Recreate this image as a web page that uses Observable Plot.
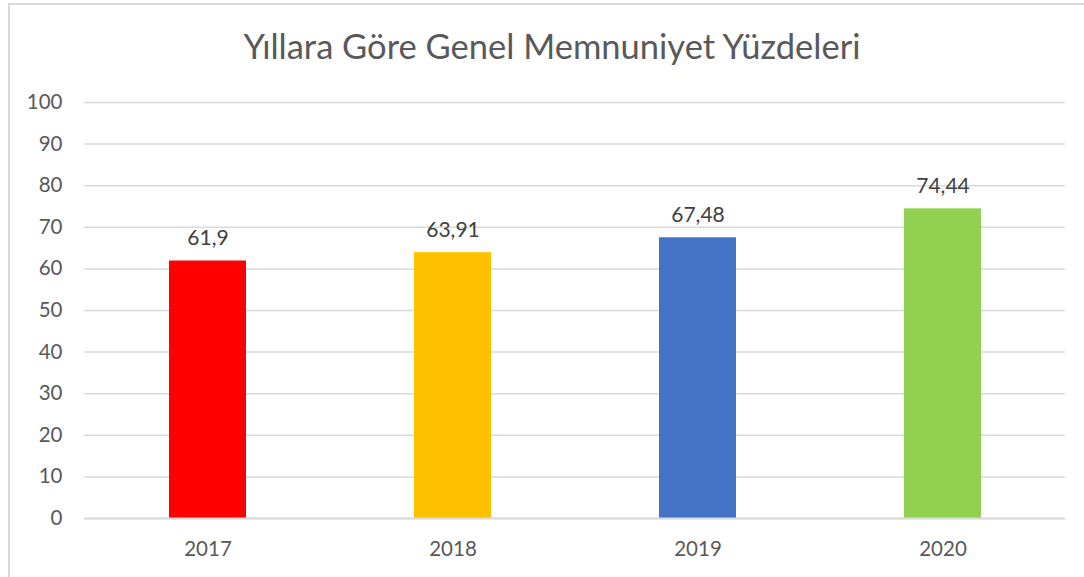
<!DOCTYPE html>
<html>
<head>
<meta charset="utf-8">
<script src="https://cdn.jsdelivr.net/npm/d3@7"></script>
<script src="https://cdn.jsdelivr.net/npm/@observablehq/plot@0.6"></script>
<style>
  html, body { margin: 0; padding: 0; background: #fff; }
  #wrap { position: relative; width: 1084px; height: 577px; overflow: hidden; }
  #border { position: absolute; left: 8px; top: 3px; width: 1100px; height: 600px;
            border-top: 2px solid #d9d9d9; border-left: 2px solid #d9d9d9; box-sizing: border-box; }
  #chart { position: absolute; left: 0; top: 0; }
</style>
</head>
<body>
<div id="wrap"><div id="border"></div><div id="chart"></div></div>
<script>
const title = "Yıllara Göre Genel Memnuniyet Yüzdeleri";
const years = ["2017", "2018", "2019", "2020"];
const values = [61.9, 63.91, 67.48, 74.44];
const colors = ["#FF0000", "#FFC000", "#4472C4", "#92D050"];
const yTicks = [0, 10, 20, 30, 40, 50, 60, 70, 80, 90, 100];

const data = years.map((y, i) => ({year: y, value: values[i], color: colors[i]}));
const fmt = v => String(v).replace(".", ",");
const font = "Lato, 'Open Sans', sans-serif";

const chart = Plot.plot({
  width: 1084,
  height: 577,
  marginLeft: 84,
  marginRight: 19,
  marginTop: 102,
  marginBottom: 59,
  style: {fontFamily: font, fontSize: "20.5px", color: "#595959", background: "transparent"},
  x: {domain: years, paddingInner: 0.686, paddingOuter: 0.343, label: null, tickSize: 0, tickPadding: 23},
  y: {domain: [0, 100], ticks: yTicks, label: null, tickSize: 0, tickPadding: 22},
  marks: [
    Plot.gridY(yTicks, {stroke: "#d9d9d9", strokeOpacity: 1, strokeWidth: 1.5}),
    Plot.barY(data, {x: "year", y: "value", fill: "color"}),
    Plot.ruleY([0], {stroke: "#d9d9d9", strokeWidth: 2}),
    Plot.text(data, {x: "year", y: "value", text: d => fmt(d.value), lineAnchor: "bottom", dy: -16,
                     fill: "#404040", fontSize: 21}),
    Plot.text([title], {frameAnchor: "top", dx: -23, dy: -55, lineAnchor: "middle", fontSize: 34.5, fill: "#595959"})
  ]
});
document.getElementById("chart").appendChild(chart);
</script>
</body>
</html>
